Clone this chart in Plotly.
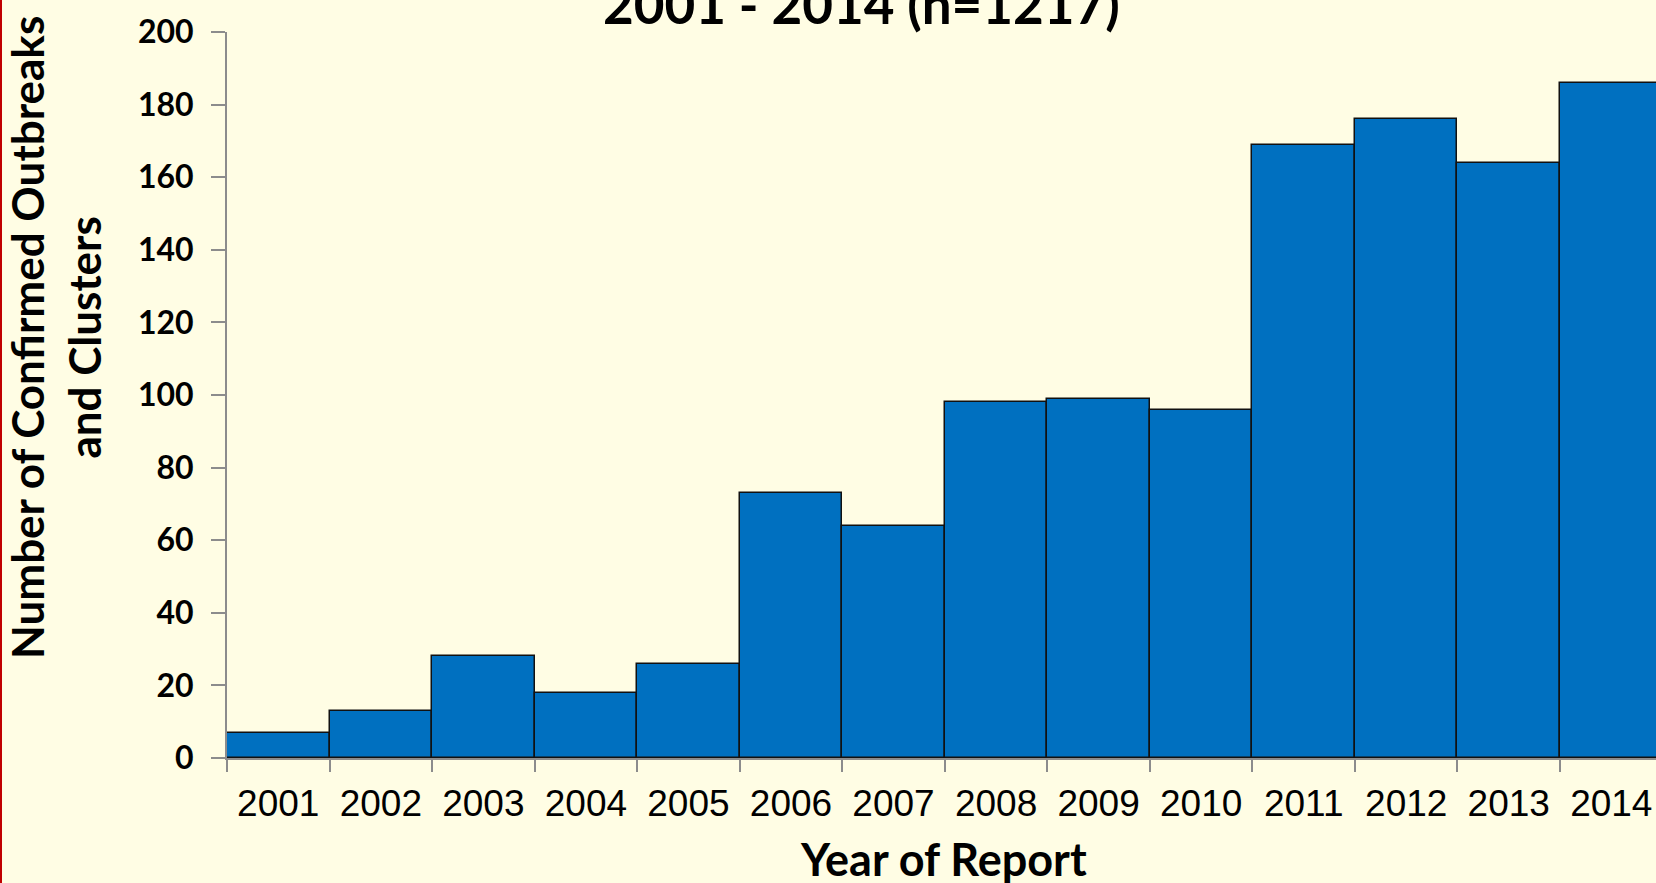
import plotly.graph_objects as go

# ---- data ----
years = ["2001", "2002", "2003", "2004", "2005", "2006", "2007",
         "2008", "2009", "2010", "2011", "2012", "2013", "2014"]
counts = [7, 13, 28, 18, 26, 73, 64, 98, 99, 96, 169, 176, 164, 186]
y_tick_vals = [0, 20, 40, 60, 80, 100, 120, 140, 160, 180, 200]
title_text = "2001 - 2014 (n=1217)"
y_title = "Number of Confirmed Outbreaks<br>and Clusters"
x_title = "Year of Report"

# ---- layout geometry ----
W, H = 1656, 883
L, R, T, B = 227, 0, 32, 125
PW, PH = W - L - R, H - T - B
BG = "#FFFDE4"
AXIS = "#8C8C8C"
BOLD = "Lato, 'Open Sans', sans-serif"


def px_x(px):
    return (px - L) / PW


def px_y(py):
    return (H - B - py) / PH


fig = go.Figure(
    go.Bar(
        x=years,
        y=counts,
        width=1,
        marker=dict(color="#0070C0", line=dict(color="#111111", width=1.5)),
        hoverinfo="x+y",
    )
)

fig.update_layout(
    width=W,
    height=H,
    margin=dict(l=L, r=R, t=T, b=B, pad=0),
    paper_bgcolor=BG,
    plot_bgcolor=BG,
    bargap=0,
    showlegend=False,
)

fig.update_xaxes(
    type="category",
    range=[-0.5, 13.436],
    tickson="boundaries",
    ticks="outside",
    ticklen=12,
    tickwidth=1.5,
    tickcolor=AXIS,
    showline=True,
    linecolor=AXIS,
    linewidth=2,
    showgrid=False,
    zeroline=False,
    ticklabelstandoff=12,
    tickfont=dict(family="'Liberation Sans', Arial, sans-serif", size=37, color="black"),
)

fig.update_yaxes(
    range=[0, 200],
    tickvals=y_tick_vals,
    ticks="outside",
    ticklen=14,
    tickwidth=1.5,
    tickcolor=AXIS,
    showline=True,
    linecolor=AXIS,
    linewidth=2,
    showgrid=False,
    zeroline=False,
    ticklabelstandoff=11,
    tickfont=dict(family=BOLD, size=32, color="black", weight="bold"),
)

fig.add_annotation(
    text=title_text, xref="paper", yref="paper",
    x=px_x(861), y=px_y(3), xanchor="center", yanchor="middle",
    showarrow=False, font=dict(family=BOLD, size=53, color="black", weight="bold"),
)
fig.add_annotation(
    text=y_title, xref="paper", yref="paper",
    x=px_x(55), y=px_y(338), xanchor="center", yanchor="middle",
    textangle=-90, showarrow=False,
    font=dict(family=BOLD, size=44, color="black", weight="bold"),
)
fig.add_annotation(
    text=x_title, xref="paper", yref="paper",
    x=px_x(944), y=px_y(859), xanchor="center", yanchor="middle",
    showarrow=False, font=dict(family=BOLD, size=45, color="black", weight="bold"),
)

# red slide border at the left edge
fig.add_shape(
    type="line", xref="paper", yref="paper",
    x0=px_x(1), x1=px_x(1), y0=px_y(H), y1=px_y(0),
    line=dict(color="#C00000", width=2),
)

fig.write_html(
    "out.html",
    post_script="document.body.style.margin='0';document.body.style.padding='0';",
)
